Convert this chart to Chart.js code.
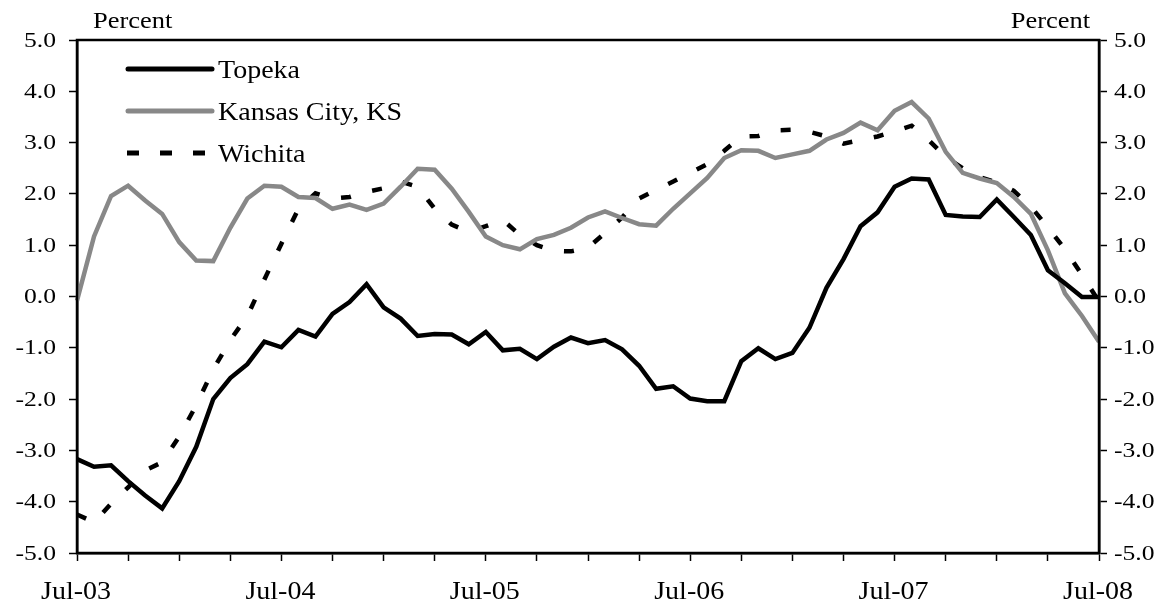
<!DOCTYPE html>
<html lang="en">
<head>
  <meta charset="UTF-8" />
  <title>Kansas cities</title>
  <script src="https://cdn.jsdelivr.net/npm/chart.js"></script>
  <style>
    body { margin: 0; background: #fff; }
    #wrap { width: 1174px; height: 609px; position: relative; }
  </style>
</head>
<body>
  <div id="wrap"><canvas id="chart"></canvas></div>
  <script>
    // months Jul-03 .. Jul-08
    const monthNames = ['Jan','Feb','Mar','Apr','May','Jun','Jul','Aug','Sep','Oct','Nov','Dec'];
    const months = [];
    for (let k = 0; k <= 60; k++) {
      const m = (6 + k) % 12;
      const yr = 3 + Math.floor((6 + k) / 12);
      months.push(monthNames[m] + '-0' + yr);
    }
    const yTicks = [5, 4, 3, 2, 1, 0, -1, -2, -3, -4, -5];

    const topeka = [
      -3.17, -3.32, -3.29, -3.60, -3.88, -4.13, -3.60, -2.93, -2.00, -1.59,
      -1.32, -0.88, -0.99, -0.65, -0.78, -0.34, -0.11, 0.24, -0.21, -0.43,
      -0.77, -0.73, -0.74, -0.93, -0.69, -1.05, -1.02, -1.22, -0.98, -0.80,
      -0.91, -0.85, -1.03, -1.35, -1.80, -1.75, -1.99, -2.04, -2.04, -1.26,
      -1.01, -1.22, -1.10, -0.61, 0.17, 0.73, 1.37, 1.64, 2.14, 2.30,
      2.28, 1.59, 1.56, 1.55, 1.89, 1.55, 1.20, 0.51, 0.26, -0.01,
      -0.01
    ];
    const kansasCity = [
      -0.08, 1.17, 1.96, 2.16, 1.87, 1.61, 1.06, 0.70, 0.69, 1.34,
      1.91, 2.16, 2.14, 1.94, 1.92, 1.71, 1.79, 1.69, 1.81, 2.14,
      2.49, 2.47, 2.10, 1.65, 1.17, 1.00, 0.92, 1.12, 1.20, 1.34,
      1.54, 1.66, 1.53, 1.41, 1.38, 1.71, 2.01, 2.31, 2.70, 2.85,
      2.84, 2.70, 2.77, 2.84, 3.06, 3.19, 3.39, 3.24, 3.62, 3.79,
      3.47, 2.82, 2.41, 2.30, 2.21, 1.94, 1.61, 0.90, 0.06, -0.38,
      -0.88
    ];
    const wichita = [
      -4.25, -4.40, -4.04, -3.72, -3.39, -3.23, -2.73, -2.12, -1.42, -0.85,
      -0.38, 0.33, 1.03, 1.71, 2.01, 1.91, 1.94, 2.04, 2.11, 2.24,
      2.14, 1.71, 1.40, 1.26, 1.37, 1.49, 1.20, 1.00, 0.89, 0.88,
      0.95, 1.24, 1.54, 1.91, 2.08, 2.24, 2.41, 2.58, 2.84, 3.12,
      3.13, 3.24, 3.25, 3.21, 3.12, 2.98, 3.05, 3.12, 3.22, 3.33,
      3.05, 2.72, 2.50, 2.33, 2.22, 2.06, 1.75, 1.35, 0.92, 0.42,
      -0.10
    ];

    const FONT = '"Liberation Serif", "Times New Roman", serif';
    const CLEAR = 'rgba(0,0,0,0)';

    // the original text is set a little wider than plain Times, so stretch it
    function drawText(ctx, text, x, y, size, sx, align, baseline) {
      ctx.save();
      ctx.translate(x, y);
      ctx.scale(sx, 1);
      ctx.font = size + 'px ' + FONT;
      ctx.fillStyle = '#000';
      ctx.textAlign = align;
      ctx.textBaseline = baseline;
      ctx.fillText(text, 0, 0);
      ctx.restore();
    }

    // frame, tick labels, "Percent" titles and the legend inside the plot
    const extras = {
      id: 'extras',
      afterDraw(chart) {
        const ctx = chart.ctx;
        const a = chart.chartArea;
        ctx.save();
        ctx.strokeStyle = '#000';
        ctx.lineWidth = 2.5;
        ctx.strokeRect(a.left, a.top, a.right - a.left, a.bottom - a.top);
        ctx.restore();

        const sy = chart.scales.y, sy2 = chart.scales.y2, sxs = chart.scales.x;
        sy.ticks.forEach((t, i) => {
          drawText(ctx, t.label, 56, sy.getPixelForTick(i) + 1, 21, 1.22, 'right', 'middle');
        });
        sy2.ticks.forEach((t, i) => {
          drawText(ctx, t.label, 1114, sy2.getPixelForTick(i) + 1, 21, 1.22, 'left', 'middle');
        });
        sxs.ticks.forEach((t, i) => {
          if (t.label) drawText(ctx, t.label, sxs.getPixelForTick(i) - 1, 599, 25, 1.12, 'center', 'alphabetic');
        });

        drawText(ctx, 'Percent', 93, 28, 23, 1.15, 'left', 'alphabetic');
        drawText(ctx, 'Percent', 1090, 28, 23, 1.15, 'right', 'alphabetic');

        const rows = [69, 111, 153];
        chart.data.datasets.forEach((ds, i) => {
          const y = rows[i];
          ctx.save();
          ctx.beginPath();
          ctx.strokeStyle = ds.borderColor;
          ctx.lineWidth = 5;
          if (ds.borderDash && ds.borderDash.length) {
            ctx.setLineDash([12, 21]);
            ctx.lineCap = 'butt';
            ctx.moveTo(127, y);
            ctx.lineTo(214, y);
          } else {
            ctx.lineCap = 'round';
            ctx.moveTo(128, y);
            ctx.lineTo(212, y);
          }
          ctx.stroke();
          ctx.restore();
          drawText(ctx, ds.label, 218, y + 9, 25, 1.12, 'left', 'alphabetic');
        });
      }
    };

    const yAxis = (pos) => ({
      type: 'linear',
      position: pos,
      min: -5,
      max: 5,
      afterBuildTicks: s => { s.ticks = yTicks.map(v => ({ value: v })); },
      afterFit: s => { s.width = pos === 'left' ? 77 : 75; },
      ticks: {
        color: CLEAR,
        padding: 6,
        font: { family: FONT, size: 21 },
        callback: v => v.toFixed(1)
      },
      grid: { drawOnChartArea: false, drawTicks: true, tickLength: 8, tickColor: '#000', tickWidth: 1.5 },
      border: { display: true, color: '#000', width: 2.5 }
    });

    new Chart(document.getElementById('chart'), {
      type: 'line',
      data: {
        labels: months,
        datasets: [
          { label: 'Topeka', data: topeka, borderColor: '#000', borderWidth: 4.5, yAxisID: 'y' },
          { label: 'Kansas City, KS', data: kansasCity, borderColor: '#888888', borderWidth: 4.5, yAxisID: 'y' },
          { label: 'Wichita', data: wichita, borderColor: '#000', borderWidth: 4.5, borderDash: [10, 22], yAxisID: 'y' }
        ]
      },
      options: {
        responsive: true,
        maintainAspectRatio: false,
        animation: false,
        layout: { padding: { top: 40, left: 0, right: 0, bottom: 0 } },
        elements: { point: { radius: 0 }, line: { tension: 0, borderJoinStyle: 'miter' } },
        plugins: { legend: { display: false }, tooltip: { enabled: false } },
        scales: {
          x: {
            offset: false,
            afterFit: s => { s.height = 56; },
            ticks: {
              autoSkip: false,
              maxRotation: 0,
              color: CLEAR,
              padding: 16,
              font: { family: FONT, size: 22 },
              callback: (v, i) => (i % 12 === 0 ? months[i] : '')
            },
            grid: {
              drawOnChartArea: false,
              drawTicks: true,
              tickLength: 8,
              tickWidth: 1.5,
              tickColor: c => (c.index % 3 === 0 ? '#000' : CLEAR)
            },
            border: { display: true, color: '#000', width: 2.5 }
          },
          y: yAxis('left'),
          y2: yAxis('right')
        }
      },
      plugins: [extras]
    });
  </script>
</body>
</html>
